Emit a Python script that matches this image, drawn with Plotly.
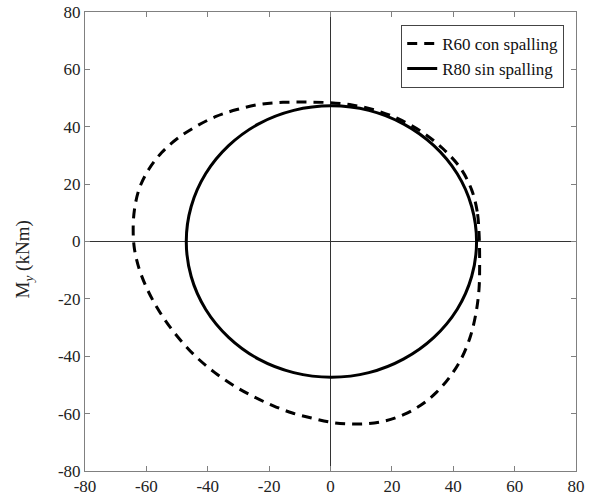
import plotly.graph_objects as go

# Solid curve: R80 sin spalling
solid_x = [47.6, 46.0, 41.3, 33.7, 23.9, 12.5, 0.3, -12.0, -23.4, -33.2, -40.7, -45.4, -47.0,
           -45.4, -40.7, -33.2, -23.4, -12.0, 0.3, 12.5, 23.9, 33.7, 41.3, 46.0, 47.6]
solid_y = [0.0, 12.2, 23.6, 33.4, 40.9, 45.7, 47.3, 45.7, 41.0, 33.4, 23.6, 12.2, 0.0,
           -12.2, -23.6, -33.4, -41.0, -45.7, -47.3, -45.7, -40.9, -33.4, -23.6, -12.2, 0.0]

# Dashed curve: R60 con spalling
dash_x = [48.4, 47.8, 46.0, 42.4, 36.5, 29.5, 22.0, 14.5, 7.0, -0.5, -8.0, -15.5, -23.0,
          -30.5, -37.5, -44.0, -50.0, -55.0, -59.2, -62.3, -63.9, -64.3, -63.9, -62.5, -60.2,
          -57.2, -53.4, -48.8, -43.6, -37.8, -31.6, -25.2, -18.8, -12.4, -6.2, 0.0, 6.0, 12.0,
          18.0, 24.0, 29.5, 34.5, 39.0, 42.8, 45.6, 47.4, 48.4, 48.6, 48.4]
dash_y = [3.0, 10.5, 18.0, 25.5, 32.5, 38.4, 42.8, 45.8, 47.6, 48.4, 48.6, 48.5, 47.8,
          46.0, 43.5, 40.0, 35.8, 31.0, 25.2, 18.5, 11.0, 4.0, -2.5, -9.0, -15.5,
          -21.8, -28.2, -34.5, -40.4, -45.6, -50.2, -54.0, -57.2, -59.8, -61.5, -63.0, -63.6, -63.5,
          -62.5, -60.3, -57.0, -52.6, -47.0, -40.5, -33.0, -25.0, -16.5, -7.0, 3.0]

tick_vals = [-80, -60, -40, -20, 0, 20, 40, 60, 80]
tick_text = ["-80", "-60", "-40", "-20", "0", "20", "40", "60", "80"]
FONT = "Liberation Serif, Times New Roman, serif"

fig = go.Figure()
fig.add_trace(go.Scatter(x=dash_x, y=dash_y, mode="lines", name="R60 con spalling",
                         line=dict(color="black", width=3, dash="10px,7px", shape="spline",
                                   smoothing=1.0)))
fig.add_trace(go.Scatter(x=solid_x, y=solid_y, mode="lines", name="R80 sin spalling",
                         line=dict(color="black", width=3, shape="spline")))

axis_common = dict(range=[-80, 80], tickvals=tick_vals, ticktext=tick_text, ticks="inside",
                   ticklen=5, tickcolor="#808080", showline=True, linecolor="#808080",
                   linewidth=1, mirror="ticks", showgrid=False, zeroline=True,
                   zerolinecolor="#333333", zerolinewidth=1, automargin=False,
                   tickfont=dict(family=FONT, size=17, color="#222"))

fig.update_xaxes(**axis_common)
fig.update_yaxes(**axis_common)

fig.add_annotation(text="M<sub><i>y</i></sub> (kNm)", xref="paper", yref="paper",
                   x=-0.125, y=0.46, xanchor="center", yanchor="middle", textangle=-90,
                   showarrow=False, font=dict(family=FONT, size=19, color="#222"))

fig.update_layout(
    width=589, height=500,
    margin=dict(l=85, r=13, t=12, b=29, autoexpand=False),
    plot_bgcolor="white", paper_bgcolor="white",
    showlegend=True,
    legend=dict(x=0.976, y=0.972, xanchor="right", yanchor="top",
                bgcolor="white", bordercolor="#444", borderwidth=1,
                font=dict(family=FONT, size=17, color="#111"),
                tracegroupgap=0, itemwidth=30),
)

fig.write_html("out.html")
